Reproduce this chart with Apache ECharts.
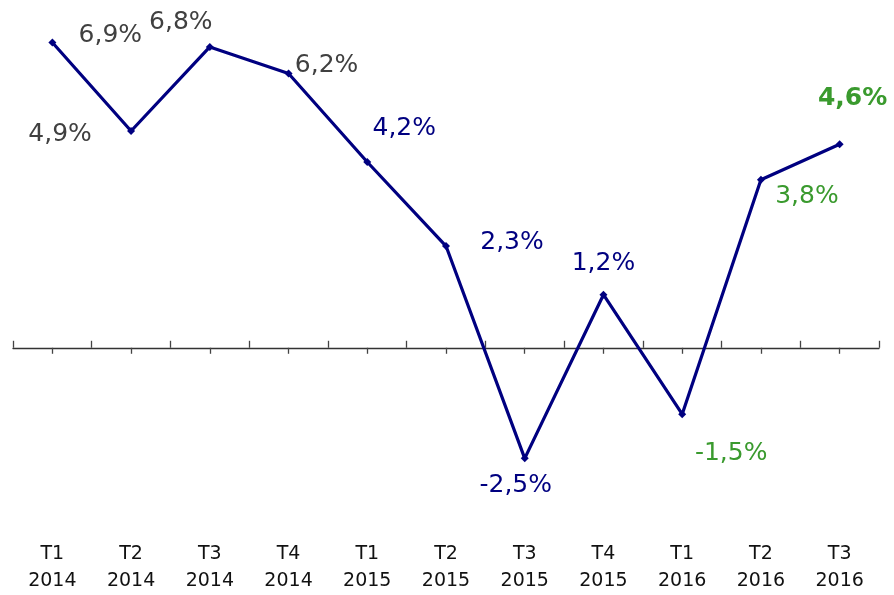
<html>
<head>
    <meta charset="UTF-8"/>
    <title>Croissance trimestrielle</title>
</head>
<script src="https://cdn.jsdelivr.net/npm/echarts@6/dist/echarts.min.js"></script>
<body style="margin:0;background:#fff;">
<div id="chart" style="width:894px;height:595px;"></div>
</body>

<script>
// donnees
var quarters = ['T1\n2014', 'T2\n2014', 'T3\n2014', 'T4\n2014', 'T1\n2015', 'T2\n2015',
                'T3\n2015', 'T4\n2015', 'T1\n2016', 'T2\n2016', 'T3\n2016'];
var growth = [6.9, 4.9, 6.8, 6.2, 4.2, 2.3, -2.5, 1.2, -1.5, 3.8, 4.6];

// placement des etiquettes (decalage en px depuis le point) et couleurs
var labelOffsets = [[58, -7], [-71, 3], [-29, -24], [38, -8], [37, -33], [66, -4],
                    [-9, 27], [0, -31], [49, 39], [46, 17], [13, -46]];
var labelColors = ['#404040', '#404040', '#404040', '#404040', '#000080', '#000080',
                   '#000080', '#000080', '#3a9a2e', '#3a9a2e', '#3a9a2e'];

var font = '"DejaVu Sans", Verdana, sans-serif';
var symSize = 8;
var myChart = echarts.init(document.getElementById('chart'));

var seriesData = growth.map(function (v, i) {
    return {
        value: v,
        label: {
            // position relative au coin haut-gauche du symbole
            position: [labelOffsets[i][0] + symSize / 2, labelOffsets[i][1] + symSize / 2],
            color: labelColors[i],
            fontWeight: i == growth.length - 1 ? 'bold' : 'normal'
        }
    };
});

var option = {
    animation: false,
    grid: { left: 13, width: 866, top: 16, height: 525 },
    xAxis: [
        {   // ligne du zero + graduations aux limites
            type: 'category',
            data: quarters,
            position: 'bottom',
            axisLine: { show: true, onZero: true, onZeroAxisIndex: 0, lineStyle: { color: '#333', width: 1.3 } },
            axisTick: { show: true, interval: 0, inside: true, length: 7, lineStyle: { color: '#444', width: 1.3 } },
            axisLabel: { show: false }
        },
        {   // petites graduations sous chaque trimestre
            type: 'category',
            data: quarters,
            position: 'top',
            axisLine: { show: false, onZero: true, onZeroAxisIndex: 1 },
            axisTick: { show: true, interval: 0, alignWithLabel: true, inside: true, length: 6, lineStyle: { color: '#444', width: 1.3 } },
            axisLabel: { show: false }
        },
        {   // libelles en bas
            type: 'category',
            data: quarters,
            position: 'bottom',
            axisLine: { show: false, onZero: false },
            axisTick: { show: false },
            axisLabel: {
                margin: 3,
                color: '#111',
                fontFamily: font,
                fontSize: 19,
                lineHeight: 27
            }
        }
    ],
    yAxis: [
        { type: 'value', min: -4.3, max: 7.5, show: false },
        { type: 'value', min: -4.3, max: 7.5, show: false }
    ],
    series: [{
        type: 'line',
        data: seriesData,
        symbol: 'diamond',
        symbolSize: symSize,
        itemStyle: { color: '#000080' },
        lineStyle: { color: '#000080', width: 3.2 },
        label: {
            show: true,
            align: 'center',
            verticalAlign: 'middle',
            fontFamily: font,
            fontSize: 25,
            formatter: function (p) {
                return String(p.value).replace('.', ',') + '%';
            }
        },
        labelLayout: { hideOverlap: false }
    }]
};
myChart.setOption(option);
</script>
</html>
